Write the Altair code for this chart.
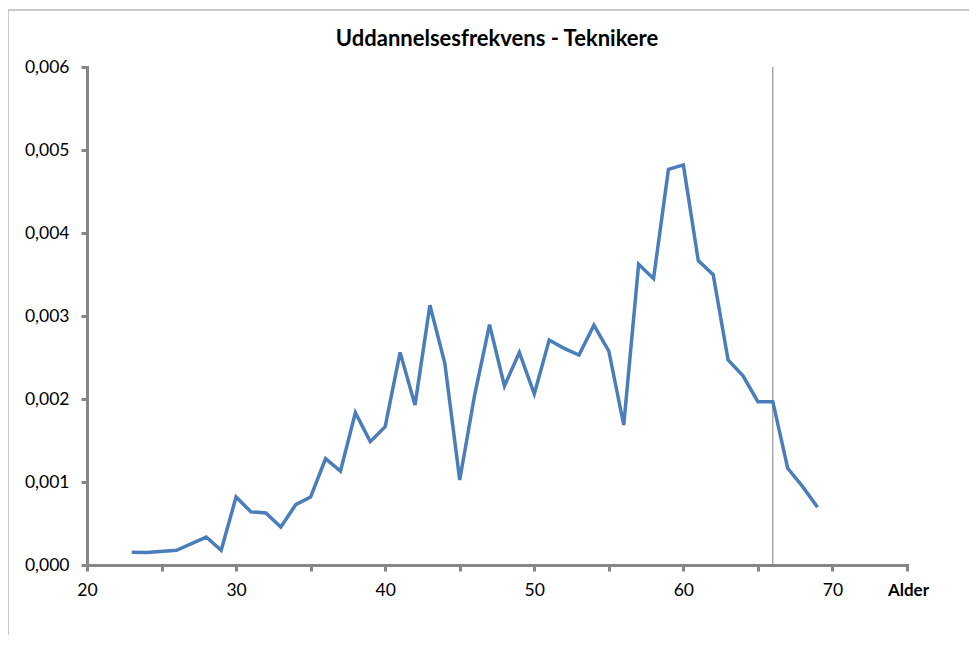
import altair as alt
import pandas as pd

ages = [23, 24, 26, 28, 29, 30, 31, 32, 33, 34, 35, 36, 37, 38, 39, 40, 41, 42, 43, 44,
        45, 46, 47, 48, 49, 50, 51, 52, 53, 54, 55, 56, 57, 58, 59, 60, 61, 62, 63, 64,
        65, 66, 67, 68, 69]
freq = [0.000153, 0.000150, 0.000177, 0.000337, 0.000177, 0.000820, 0.000640, 0.000627,
        0.000458, 0.000727, 0.000820, 0.001280, 0.001130, 0.001835, 0.001486, 0.001667,
        0.002562, 0.001928, 0.003129, 0.002430, 0.001024, 0.002048, 0.002896, 0.002157,
        0.002562, 0.002060, 0.002710, 0.002610, 0.002530, 0.002890, 0.002578, 0.001687,
        0.003623, 0.003450, 0.004767, 0.004820, 0.003667, 0.003498, 0.002470, 0.002280,
        0.001968, 0.001968, 0.001165, 0.000944, 0.000695]
marker_age = [66]
x_ticks = [20, 25, 30, 35, 40, 45, 50, 55, 60, 65, 70, 75]
y_ticks = [0, 0.001, 0.002, 0.003, 0.004, 0.005, 0.006]

df = pd.DataFrame({"Alder": ages, "Frekvens": freq})
FONT = "Lato"

xscale = alt.Scale(domain=[20, 75], nice=False, zero=False)
yscale = alt.Scale(domain=[0, 0.006], nice=False)

border = alt.Chart(alt.Data(values=[{}])).mark_rect(
    fill="white", fillOpacity=0, stroke="#b8b8b8", strokeWidth=1.5
).encode(
    x=alt.value(-79), x2=alt.value(910), y=alt.value(-57), y2=alt.value(600)
)

line = alt.Chart(df).mark_line(color="#4a7ebb", strokeWidth=3.5, strokeJoin="miter").encode(
    x=alt.X("Alder:Q", scale=xscale,
            axis=alt.Axis(values=x_ticks, title="Alder", labelFlush=False,
                          labelExpr="datum.value % 10 == 0 ? datum.label : ''",
                          titleX=821, titleY=25, titleAlign="center",
                          titleBaseline="middle", titleFontWeight="bold",
                          titleFontSize=17, titleFont=FONT, titleColor="black")),
    y=alt.Y("Frekvens:Q", scale=yscale,
            axis=alt.Axis(values=y_ticks, title=None, labelFlush=False,
                          labelPadding=12,
                          labelExpr="replace(format(datum.value, '.3f'), '.', ',')")),
)

rule = alt.Chart(pd.DataFrame({"Alder": marker_age})).mark_rule(
    color="#7f7f7f", strokeWidth=1
).encode(
    x=alt.X("Alder:Q", scale=xscale),
    y=alt.datum(0.006, scale=yscale),
    y2=alt.datum(0),
)

chart = alt.layer(border, rule, line).properties(
    width=820, height=498,
    padding={"left": 79, "top": 59, "right": 62, "bottom": 70},
    autosize=alt.AutoSizeParams(type="none"),
    title=alt.TitleParams("Uddannelsesfrekvens - Teknikere", font=FONT, fontSize=22,
                          fontWeight="bold", color="black", anchor="middle",
                          frame="group", offset=0, dy=42),
).configure_view(stroke=None).configure_axis(
    grid=False, domainColor="#868686", domainWidth=3, tickColor="#868686",
    tickWidth=3, tickSize=6, labelFont=FONT, labelFontSize=17.5, labelColor="black",
    labelPadding=10, domainCap="square",
)

chart.save("out.html", embed_options={"renderer": "svg", "actions": False})
